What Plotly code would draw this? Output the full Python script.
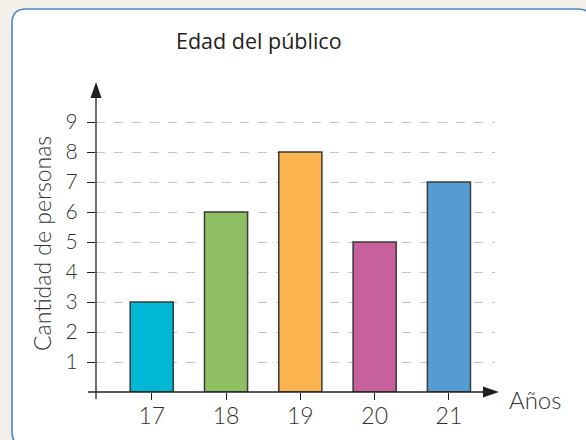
import plotly.graph_objects as go

# Edad del público: cantidad de personas por edad
edades = [17, 18, 19, 20, 21]
personas = [3, 6, 8, 5, 7]
colores = ["#00B8D4", "#8EC063", "#FBB44F", "#C6619C", "#559CD2"]
y_ticks = [1, 2, 3, 4, 5, 6, 7, 8, 9]

W, H = 586, 440
# plot area in pixels
L, R, T, B = 96, 495, 98, 392
PW, PH = R - L, B - T

INK = "#231F20"
LABEL = "#333333"
FONT = "Lato, Open Sans, sans-serif"
TITLE_FONT = "Open Sans, sans-serif"


def px(x):
    return (x - L) / PW


def py(y):
    return (B - y) / PH


fig = go.Figure()
fig.add_trace(go.Bar(
    x=edades,
    y=personas,
    width=0.58,
    marker=dict(color=colores, line=dict(color="#3a3a3a", width=1.5)),
    hoverinfo="x+y",
))

shapes = []

# white rounded panel with blue border
r = 14
x0, y0, x1, y1 = 12 - L, B - 9, 592 - L, B - 446
panel = (
    f"M {x0},{y1 + r} L {x0},{y0 - r} Q {x0},{y0} {x0 + r},{y0} "
    f"L {x1 - r},{y0} Q {x1},{y0} {x1},{y0 - r} "
    f"L {x1},{y1 + r} Q {x1},{y1} {x1 - r},{y1} "
    f"L {x0 + r},{y1} Q {x0},{y1} {x0},{y1 + r} Z"
)
shapes.append(dict(
    type="path", xref="paper", yref="paper", xsizemode="pixel", ysizemode="pixel",
    xanchor=0, yanchor=0, path=panel, fillcolor="white",
    line=dict(color="#4A88C7", width=1.6), layer="below",
))

# axis lines
shapes.append(dict(
    type="line", xref="paper", yref="paper", xsizemode="pixel", ysizemode="pixel",
    xanchor=0, yanchor=0, x0=0, x1=0, y0=-7, y1=PH + 2,
    line=dict(color=INK, width=1.3), layer="above",
))
shapes.append(dict(
    type="line", xref="paper", yref="paper", xsizemode="pixel", ysizemode="pixel",
    xanchor=0, yanchor=0, x0=-8, x1=PW - 10, y0=0, y1=0,
    line=dict(color=INK, width=1.3), layer="above",
))
# arrowheads
shapes.append(dict(
    type="path", xref="paper", yref="paper", xsizemode="pixel", ysizemode="pixel",
    xanchor=0, yanchor=0, path=f"M -5.5,{PH} L 5.5,{PH} L 0,{PH + 16} Z",
    fillcolor=INK, line=dict(width=0), layer="above",
))
shapes.append(dict(
    type="path", xref="paper", yref="paper", xsizemode="pixel", ysizemode="pixel",
    xanchor=0, yanchor=0, path=f"M {PW - 12},-5.5 L {PW - 12},5.5 L {PW + 4},0 Z",
    fillcolor=INK, line=dict(width=0), layer="above",
))

annotations = [
    dict(text="Edad del público", x=px(259), y=py(41), xref="paper", yref="paper",
         showarrow=False, xanchor="center", yanchor="middle",
         font=dict(family=TITLE_FONT, size=21.5, color=INK)),
    dict(text="Cantidad de personas", x=px(42), y=py(244), xref="paper", yref="paper",
         showarrow=False, xanchor="center", yanchor="middle", textangle=-90,
         font=dict(family=FONT, size=23, color=LABEL, weight=300)),
    dict(text="Años", x=px(535), y=py(399), xref="paper", yref="paper",
         showarrow=False, xanchor="center", yanchor="middle",
         font=dict(family=FONT, size=24, color=LABEL, weight=300)),
]

fig.update_layout(
    width=W, height=H,
    margin=dict(l=L, r=W - R, t=T, b=H - B, pad=0, autoexpand=False),
    paper_bgcolor="#F3F0E9",
    plot_bgcolor="rgba(0,0,0,0)",
    showlegend=False,
    bargap=0.42,
    shapes=shapes,
    annotations=annotations,
    xaxis=dict(
        range=[16.25, 21.62], tickvals=edades, ticktext=[str(e) for e in edades],
        ticks="outside", ticklen=7, tickwidth=1.2, tickcolor=INK,
        showgrid=False, zeroline=False, showline=False, automargin=False,
        tickfont=dict(family=FONT, size=23, color=LABEL, weight=300),
        ticklabelstandoff=-4,
        fixedrange=True,
    ),
    yaxis=dict(
        range=[0, PH / 30.0], tickvals=y_ticks,
        ticks="outside", ticklen=8, tickwidth=1.2, tickcolor=INK,
        showgrid=True, gridcolor="#C4C4C4", gridwidth=1, griddash="dash",
        zeroline=False, showline=False, automargin=False,
        tickfont=dict(family=FONT, size=21, color=LABEL, weight=300),
        ticklabelstandoff=5,
        fixedrange=True,
    ),
)

fig.write_html("out.html")
